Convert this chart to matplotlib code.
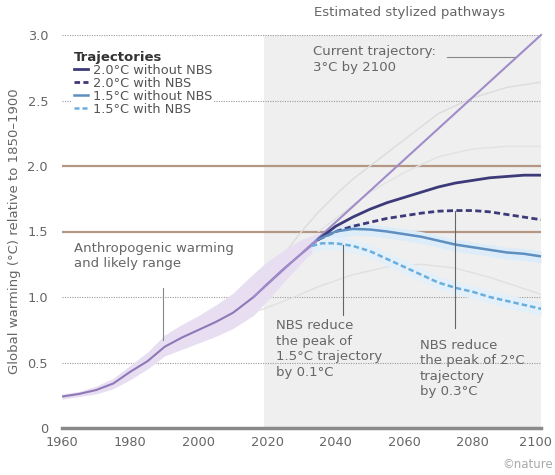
import numpy as np
import matplotlib.pyplot as plt
import matplotlib.transforms as mtransforms
from matplotlib.lines import Line2D

plt.rcParams['font.family'] = ['DejaVu Sans']

# observed anthropogenic warming and its likely range
hist_years = [1960, 1965, 1970, 1975, 1980, 1985, 1990, 1995, 2000, 2005, 2010, 2016, 2020, 2025, 2030, 2035]
hist_temp = [0.24, 0.26, 0.29, 0.34, 0.43, 0.51, 0.62, 0.69, 0.75, 0.81, 0.88, 1.00, 1.10, 1.22, 1.33, 1.44]
hist_low = [0.22, 0.24, 0.26, 0.30, 0.37, 0.45, 0.55, 0.60, 0.65, 0.70, 0.76, 0.86, 0.97, 1.12, 1.26, 1.39]
hist_high = [0.26, 0.28, 0.32, 0.38, 0.48, 0.58, 0.71, 0.79, 0.86, 0.94, 1.03, 1.18, 1.27, 1.36, 1.44, 1.49]

# current trajectory: 3 degC by 2100
cur_years = [2016, 2100]
cur_temp = [1.0, 3.0]

# stylized pathways
traj_years = [2035, 2040, 2045, 2050, 2055, 2060, 2065, 2070, 2075, 2080, 2085, 2090, 2095, 2100]
t20_without = [1.44, 1.54, 1.61, 1.67, 1.72, 1.76, 1.80, 1.84, 1.87, 1.89, 1.91, 1.92, 1.93, 1.93]
t20_with = [1.44, 1.50, 1.54, 1.57, 1.60, 1.62, 1.64, 1.655, 1.66, 1.66, 1.65, 1.63, 1.61, 1.59]
t15_without = [1.44, 1.50, 1.52, 1.515, 1.50, 1.48, 1.46, 1.43, 1.40, 1.38, 1.36, 1.34, 1.33, 1.31]
t15_with_years = [2033, 2036, 2040, 2045, 2050, 2055, 2060, 2065, 2070, 2075, 2080, 2085, 2090, 2095, 2100]
t15_with = [1.39, 1.41, 1.41, 1.39, 1.35, 1.29, 1.23, 1.17, 1.11, 1.07, 1.04, 1.00, 0.97, 0.94, 0.91]

# faint background pathways
bg_upper_years = [2016, 2020, 2025, 2030, 2035, 2040, 2045, 2050, 2060, 2070, 2080, 2090, 2100]
bg_upper = [1.0, 1.15, 1.33, 1.50, 1.65, 1.78, 1.90, 2.00, 2.20, 2.40, 2.52, 2.60, 2.64]
bg_mid_years = [2035, 2040, 2050, 2060, 2070, 2080, 2090, 2100]
bg_mid = [1.50, 1.60, 1.80, 1.95, 2.07, 2.13, 2.15, 2.15]
bg_low_years = [2018, 2027, 2035, 2045, 2055, 2065, 2075, 2085, 2100]
bg_low = [0.90, 0.99, 1.08, 1.17, 1.23, 1.25, 1.22, 1.15, 1.02]

xticks = [1960, 1980, 2000, 2020, 2040, 2060, 2080, 2100]
yticks = [0, 0.5, 1.0, 1.5, 2.0, 2.5, 3.0]
ytick_labels = ['0', '0.5', '1.0', '1.5', '2.0', '2.5', '3.0']

text_c = '#666666'
navy = '#3d3a7a'
blue = '#5f8ec0'
lblue = '#6aaedc'
purple = '#8e78b8'
brown = '#b39683'

fig = plt.figure(figsize=(5.55, 4.75), dpi=100)
ax = fig.add_axes([62 / 555, 47 / 475, 479 / 555, 393 / 475])
ax.set_xlim(1960, 2100)
ax.set_ylim(0, 3.0)

# projection period shading
ax.axvspan(2019, 2100, ymin=0, ymax=1, color='#efefef', lw=0, zorder=0)

for v in [0.5, 1.0, 2.5, 3.0]:
    ax.axhline(v, color='#9a9a9a', lw=0.8, ls=(0, (1, 1.2)), zorder=1)
for v in [1.5, 2.0]:
    ax.axhline(v, color=brown, lw=1.6, zorder=1)

# background pathways
ax.plot(bg_upper_years, bg_upper, color='#dcdcdc', lw=1.0, zorder=2)
ax.plot(bg_mid_years, bg_mid, color='#e2e2e2', lw=1.0, zorder=2)
ax.plot(bg_low_years, bg_low, color='#e0e0e0', lw=1.0, zorder=2)

# likely range band and history
ax.fill_between(hist_years, hist_low, hist_high, color='#e8def2', lw=0, zorder=2)
ax.plot(hist_years, hist_temp, color=purple, lw=1.5, zorder=4)
ax.plot(cur_years, cur_temp, color='#a08cca', lw=1.5, zorder=4, clip_on=False)

# soft halos around the 1.5 degC pathways
ax.fill_between(traj_years, np.array(t15_without) - 0.05, np.array(t15_without) + 0.04,
                color='#dcecf8', lw=0, zorder=2)
ax.fill_between(t15_with_years, np.array(t15_with) - 0.05, np.array(t15_with) + 0.05,
                color='#e3f0fa', lw=0, zorder=2)

ax.plot(traj_years, t20_without, color=navy, lw=2.0, zorder=5)
ax.plot(traj_years, t20_with, color=navy, lw=2.0, ls=(0, (2.2, 1.2)), zorder=5)
ax.plot(traj_years, t15_without, color=blue, lw=1.8, zorder=5)
ax.plot(t15_with_years, t15_with, color=lblue, lw=1.8, ls=(0, (2.2, 1.2)), zorder=5)

# axes styling
for s in ['top', 'right', 'left']:
    ax.spines[s].set_visible(False)
ax.spines['bottom'].set_color('#8a8a8a')
ax.spines['bottom'].set_linewidth(2.5)
ax.set_xticks(xticks)
ax.set_yticks(yticks)
ax.set_yticklabels(ytick_labels)
ax.tick_params(axis='both', length=0, labelsize=9.3, labelcolor=text_c)
ax.tick_params(axis='x', pad=6)
ax.tick_params(axis='y', pad=10)
# keep the last year label inside the figure
last = ax.get_xticklabels()[-1]
last.set_transform(last.get_transform() + mtransforms.ScaledTranslation(-5 / 100, 0, fig.dpi_scale_trans))
ax.set_ylabel('Global warming (°C) relative to 1850–1900', fontsize=9.5, color=text_c, labelpad=5)

# legend, on a white patch so the 2.5 gridline stops at its edge
handles = [
    Line2D([], [], color=navy, lw=2.0),
    Line2D([], [], color=navy, lw=2.0, ls=(0, (2, 1.2))),
    Line2D([], [], color=blue, lw=1.8),
    Line2D([], [], color=lblue, lw=1.8, ls=(0, (2, 1.2))),
]
labels = ['2.0°C without NBS', '2.0°C with NBS', '1.5°C without NBS', '1.5°C with NBS']
leg = ax.legend(handles, labels, title='Trajectories', loc='upper left',
                bbox_to_anchor=(66 / 555, (475 - 43) / 475), bbox_transform=fig.transFigure,
                frameon=True, fancybox=False, facecolor='white', edgecolor='none', framealpha=1,
                fontsize=9.3, handlelength=1.1, handletextpad=0.4,
                labelspacing=0.0, borderpad=0.1, alignment='left')
leg.get_title().set_fontweight('bold')
leg.get_title().set_fontsize(9.5)
leg.get_title().set_color('#333333')
for t in leg.get_texts():
    t.set_color('#555555')

# annotations
ax.text(2061.5, 3.12, 'Estimated stylized pathways', ha='center', va='bottom',
        fontsize=9.5, color=text_c, clip_on=False)
ax.text(2033.4, 2.92, 'Current trajectory:\n3°C by 2100', ha='left', va='top',
        fontsize=9.5, color=text_c, linespacing=1.25)
ax.plot([2072.5, 2092.4], [2.83, 2.83], color='#888888', lw=0.8, zorder=3)

ax.text(1963.5, 1.42, 'Anthropogenic warming\nand likely range', ha='left', va='top',
        fontsize=9.5, color=text_c, linespacing=1.25)
ax.plot([1989.5, 1989.5], [1.07, 0.67], color='#888888', lw=0.8, zorder=3)

ax.text(2022.6, 0.83, 'NBS reduce\nthe peak of\n1.5°C trajectory\nby 0.1°C', ha='left', va='top',
        fontsize=9.5, color=text_c, linespacing=1.25)
ax.plot([2042, 2042], [1.40, 0.86], color='#666666', lw=0.8, zorder=6)

ax.text(2064.6, 0.68, 'NBS reduce\nthe peak of 2°C\ntrajectory\nby 0.3°C', ha='left', va='top',
        fontsize=9.5, color=text_c, linespacing=1.25)
ax.plot([2075, 2075], [1.66, 0.76], color='#666666', lw=0.8, zorder=6)

fig.text(553 / 555, 4 / 475, '©nature', ha='right', va='bottom', fontsize=8.5, color='#aaaaaa')

fig.savefig('out.png', dpi=100)
